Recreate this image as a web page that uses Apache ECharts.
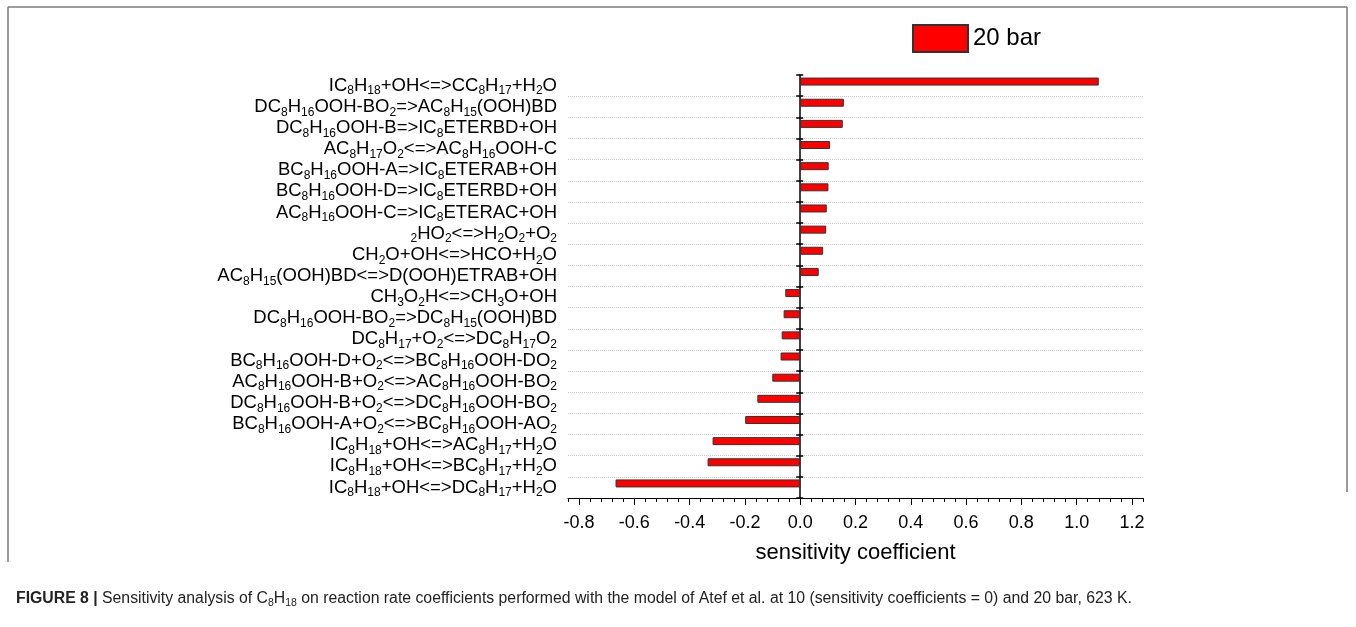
<!DOCTYPE html>
<html>
<head>
<meta charset="utf-8">
<script src="https://cdn.jsdelivr.net/npm/echarts@6/dist/echarts.min.js"></script>
<style>
  html, body { margin: 0; padding: 0; background: #fff; }
  #main { width: 1356px; height: 627px; }
</style>
</head>
<body>
<div id="main"></div>
<script>
// reactions, listed top to bottom as in the figure
var reactions = [
  'IC8H18+OH<=>CC8H17+H2O',
  'DC8H16OOH-BO2=>AC8H15(OOH)BD',
  'DC8H16OOH-B=>IC8ETERBD+OH',
  'AC8H17O2<=>AC8H16OOH-C',
  'BC8H16OOH-A=>IC8ETERAB+OH',
  'BC8H16OOH-D=>IC8ETERBD+OH',
  'AC8H16OOH-C=>IC8ETERAC+OH',
  '2HO2<=>H2O2+O2',
  'CH2O+OH<=>HCO+H2O',
  'AC8H15(OOH)BD<=>D(OOH)ETRAB+OH',
  'CH3O2H<=>CH3O+OH',
  'DC8H16OOH-BO2=>DC8H15(OOH)BD',
  'DC8H17+O2<=>DC8H17O2',
  'BC8H16OOH-D+O2<=>BC8H16OOH-DO2',
  'AC8H16OOH-B+O2<=>AC8H16OOH-BO2',
  'DC8H16OOH-B+O2<=>DC8H16OOH-BO2',
  'BC8H16OOH-A+O2<=>BC8H16OOH-AO2',
  'IC8H18+OH<=>AC8H17+H2O',
  'IC8H18+OH<=>BC8H17+H2O',
  'IC8H18+OH<=>DC8H17+H2O'
]

// sensitivity coefficients at 20 bar
var bar20 = [1.08, 0.158, 0.154, 0.108, 0.103, 0.102, 0.096, 0.094, 0.083, 0.067,
  -0.054, -0.060, -0.067, -0.071, -0.101, -0.155, -0.199, -0.317, -0.335, -0.668]

// at 10 bar all coefficients are 0
var bar10 = [0, 0, 0, 0, 0, 0, 0, 0, 0, 0, 0, 0, 0, 0, 0, 0, 0, 0, 0, 0]

var xTicks = [-0.8, -0.6, -0.4, -0.2, 0.0, 0.2, 0.4, 0.6, 0.8, 1.0, 1.2]

var FONT = 'Liberation Sans'

// digits in the formulas are drawn as subscripts
function subscript(s) {
  return s.replace(/(\d+)/g, '{s|$1}')
}

var myChart = echarts.init(document.getElementById('main'))

var option = {
  animation: false,
  title: {
    left: 11,
    top: 585,
    text: '{b|FIGURE 8 |} Sensitivity analysis of C{s|8}H{s|18} on reaction rate coefficients performed with the model of Atef et al. at 10 (sensitivity coefficients = 0) and 20 bar, 623 K.',
    textStyle: {
      fontFamily: FONT,
      fontSize: 15.8,
      fontWeight: 'normal',
      color: '#222',
      lineHeight: 18,
      rich: {
        b: { fontFamily: FONT, fontSize: 15.8, fontWeight: 'bold', color: '#222', lineHeight: 18 },
        s: { fontFamily: FONT, fontSize: 10.5, color: '#222', lineHeight: 11, padding: [9, 0, 0, 0] }
      }
    }
  },
  legend: {
    data: ['20 bar'],
    left: 912,
    top: 24,
    padding: 0,
    icon: 'rect',
    itemWidth: 55,
    itemHeight: 27,
    textStyle: { fontFamily: FONT, fontSize: 24, color: '#000' }
  },
  grid: {
    left: 568,
    right: 213,
    top: 75,
    bottom: 129
  },
  xAxis: [
    {
      // axis line + minor ticks
      type: 'value',
      min: -0.84,
      max: 1.24,
      interval: 0.04,
      position: 'bottom',
      axisLine: { show: true, lineStyle: { color: '#000', width: 1 } },
      axisTick: { show: true, length: 4, lineStyle: { color: '#000', width: 1 } },
      axisLabel: { show: false },
      splitLine: { show: false }
    },
    {
      // major ticks + labels
      type: 'value',
      min: -0.84,
      max: 1.24,
      position: 'bottom',
      axisLine: { show: false },
      axisTick: { show: true, length: 7, customValues: xTicks, lineStyle: { color: '#000', width: 1 } },
      axisLabel: {
        customValues: xTicks,
        margin: 16,
        color: '#000',
        fontFamily: FONT,
        fontSize: 18,
        formatter: function (v) {
          return v.toFixed(1)
        }
      },
      splitLine: { show: false },
      name: 'sensitivity coefficient',
      nameLocation: 'middle',
      nameGap: 44,
      nameTextStyle: { fontFamily: FONT, fontSize: 22, color: '#000' }
    }
  ],
  yAxis: [
    {
      // reaction labels + dotted separators
      type: 'category',
      inverse: true,
      data: reactions,
      position: 'left',
      axisLine: { show: false, onZero: false },
      axisTick: { show: false },
      axisLabel: {
        interval: 0,
        margin: 11,
        color: '#000',
        fontFamily: FONT,
        fontSize: 18.5,
        lineHeight: 20,
        formatter: subscript,
        rich: {
          s: { fontFamily: FONT, fontSize: 12, color: '#000', lineHeight: 12, padding: [11, 0, 0, 0] }
        }
      },
      splitLine: {
        show: true,
        interval: function (i) {
          return i > 0
        },
        lineStyle: { color: '#c8c8c8', type: 'dotted', width: 1 }
      }
    },
    {
      // vertical line at zero, ticks to the left
      type: 'category',
      inverse: true,
      data: reactions,
      position: 'left',
      axisLine: { show: true, onZero: true, lineStyle: { color: '#000', width: 1.5 } },
      axisTick: { show: true, interval: 0, length: 4, lineStyle: { color: '#000', width: 1.5 } },
      axisLabel: { show: false },
      splitLine: { show: false }
    },
    {
      // ticks to the right of the zero line
      type: 'category',
      inverse: true,
      data: reactions,
      position: 'right',
      axisLine: { show: false, onZero: true },
      axisTick: { show: true, interval: 0, length: 3, lineStyle: { color: '#000', width: 1.5 } },
      axisLabel: { show: false },
      splitLine: { show: false }
    }
  ],
  series: [
    {
      name: '20 bar',
      type: 'bar',
      data: bar20,
      barWidth: 8,
      barGap: '0%',
      itemStyle: { color: '#ff0000', borderColor: '#333', borderWidth: 1 }
    },
    {
      name: '10 bar',
      type: 'bar',
      data: bar10,
      barWidth: 8,
      barGap: '0%',
      silent: true,
      itemStyle: { color: 'rgba(0,0,0,0)', borderWidth: 0 }
    }
  ],
  graphic: [
    { type: 'line', shape: { x1: 8, y1: 7, x2: 1347, y2: 7 }, style: { stroke: '#7a7a7a', lineWidth: 1.5 } },
    { type: 'line', shape: { x1: 8, y1: 7, x2: 8, y2: 562 }, style: { stroke: '#7a7a7a', lineWidth: 1.5 } },
    { type: 'line', shape: { x1: 1347, y1: 7, x2: 1347, y2: 492 }, style: { stroke: '#7a7a7a', lineWidth: 1.5 } }
  ]
}

myChart.setOption(option)
</script>
</body>
</html>
